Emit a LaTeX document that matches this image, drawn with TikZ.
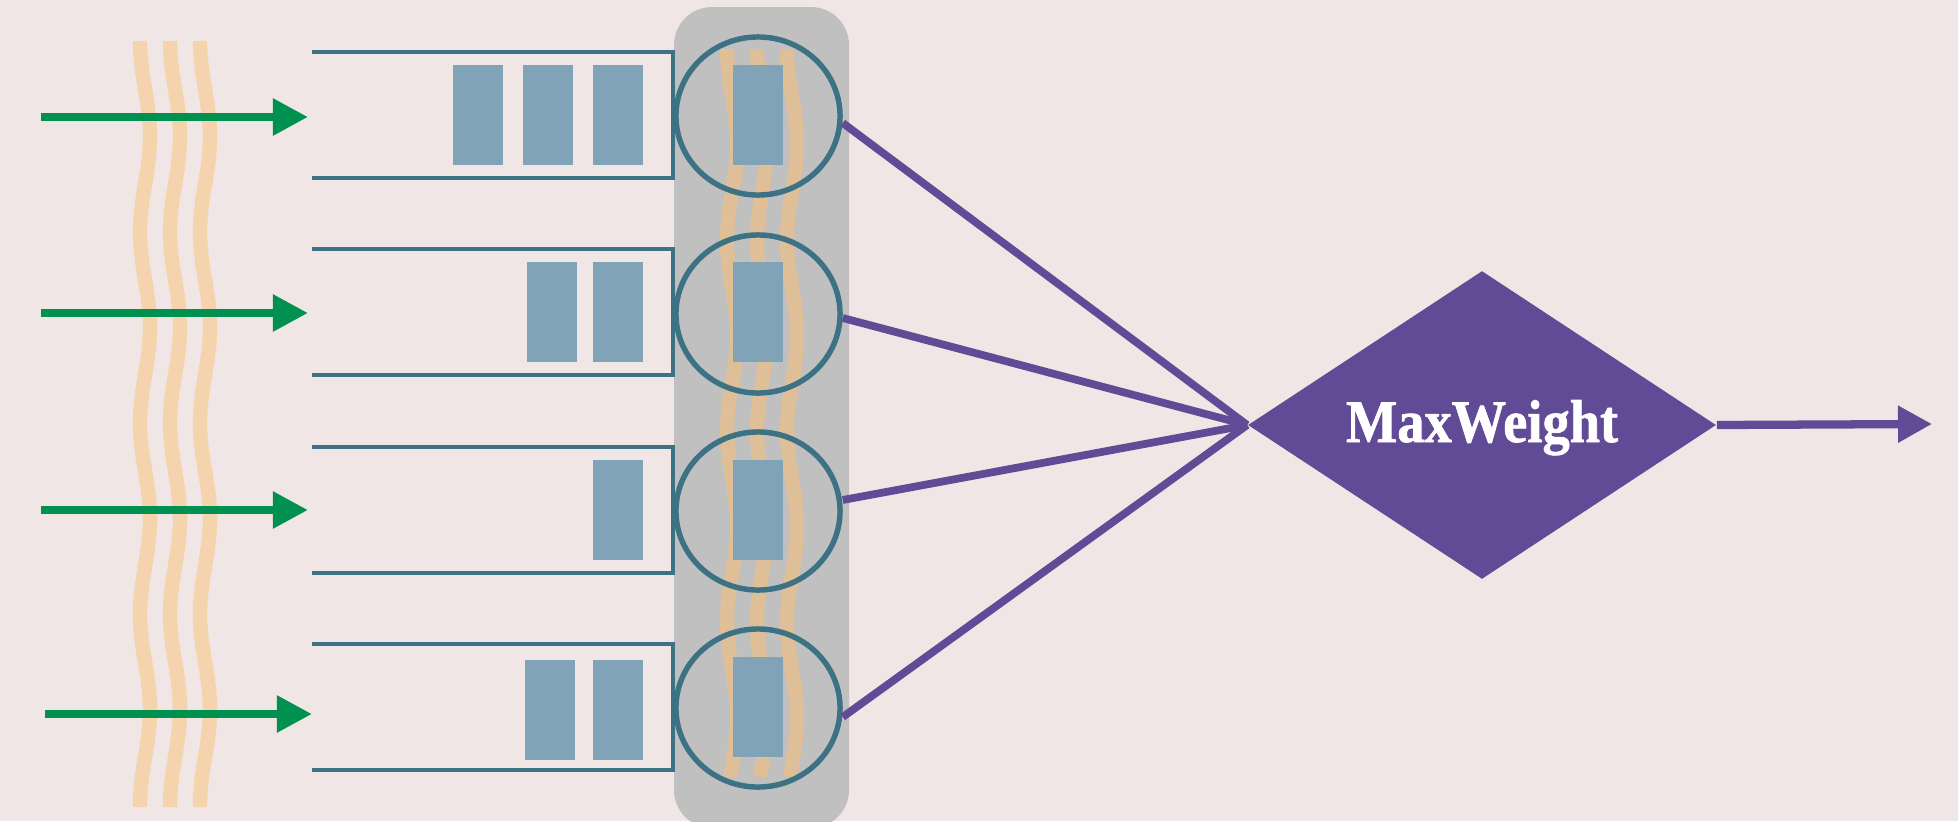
\documentclass[tikz,border=0pt]{standalone}
\usepackage{fontspec}
\usepackage{graphicx}
\newfontfamily\mwfont{Liberation Serif}[FakeBold=1.2]
\usetikzlibrary{arrows.meta,shapes.geometric}

\definecolor{bgcol}{RGB}{239,230,229}
\definecolor{bandgray}{RGB}{192,192,192}
\definecolor{flowor}{RGB}{245,211,172}
\definecolor{flowband}{RGB}{222,191,151}
\definecolor{arrgreen}{RGB}{0,144,79}
\definecolor{qteal}{RGB}{60,114,131}
\definecolor{pktblue}{RGB}{128,163,183}
\definecolor{mwpurple}{RGB}{97,74,150}

\begin{document}
\begin{tikzpicture}[x=0.01cm, y=-0.01cm,
  flowline/.style={draw=flowor, line width=4.1pt},
  bandflow/.style={draw=flowband, line width=4.1pt},
  qline/.style={draw=qteal, line width=1.4pt, line join=miter},
  pkt/.style={rectangle, fill=pktblue, draw=none, inner sep=0pt, outer sep=0pt,
    minimum width=0.5cm, minimum height=1cm},
  srv/.style={ellipse, draw=qteal, line width=1.55pt, inner sep=0pt,
    minimum width=1.64cm, minimum height=1.58cm},
  arrival/.style={draw=arrgreen, line width=2.35pt,
    -{Triangle[length=0.35cm, width=0.35cm]}},
  schedlink/.style={draw=mwpurple, line width=2.2pt},
  decide/.style={diamond, fill=mwpurple, draw=none, inner sep=0pt,
    minimum width=4.68cm, minimum height=3.08cm},
  outarrow/.style={draw=mwpurple, line width=2.35pt,
    -{Triangle[length=0.34cm, width=0.35cm]}}
]
\useasboundingbox (0,0) rectangle (1958,821);
\fill[bgcol] (0,0) rectangle (1958,821);

% grey column behind the servers
\fill[bandgray, rounded corners=0.38cm] (674,7) rectangle (849,828);

% channel fluctuation lines inside the column (period 191 units)
\foreach \xo in {727,757,787}
  \draw[bandflow] plot[domain=49:777, samples=120, variable=\t]
    ({\xo+5-5*cos(1.8848*(\t-49))}, \t);

% servers
\node[srv] (srv1) at (758,116) {};
\node[srv] (srv2) at (758,314) {};
\node[srv] (srv3) at (758,511) {};
\node[srv] (srv4) at (758,708) {};

% packets in service
\node[pkt] (s1) at (758,115) {};
\node[pkt] (s2) at (758,312) {};
\node[pkt] (s3) at (758,510) {};
\node[pkt] (s4) at (758,707) {};

% queue buffers
\foreach \c in {115,312,510,707}
  \draw[qline] (312,{\c-63}) -- (673,{\c-63}) -- (673,{\c+63}) -- (312,{\c+63});

% waiting packets
\node[pkt] (q1a) at (478,115) {};
\node[pkt] (q1b) at (548,115) {};
\node[pkt] (q1c) at (618,115) {};
\node[pkt] (q2a) at (552,312) {};
\node[pkt] (q2b) at (618,312) {};
\node[pkt] (q3a) at (618,510) {};
\node[pkt] (q4a) at (550,710) {};
\node[pkt] (q4b) at (618,710) {};

% arrival fluctuation lines
\foreach \xo in {140,170,200}
  \draw[flowline] plot[domain=41:807, samples=160, variable=\t]
    ({\xo+5-5*cos(1.8848*(\t-41))}, \t);

% arrivals
\coordinate (a1s) at (41,117);  \coordinate (a1e) at (308,117);
\coordinate (a2s) at (41,313);  \coordinate (a2e) at (308,313);
\coordinate (a3s) at (41,510);  \coordinate (a3e) at (308,510);
\coordinate (a4s) at (45,714);  \coordinate (a4e) at (312,714);
\draw[arrival] (a1s) -- (a1e);
\draw[arrival] (a2s) -- (a2e);
\draw[arrival] (a3s) -- (a3e);
\draw[arrival] (a4s) -- (a4e);

% scheduler
\node[decide] (mw) at (1482,425) {};
\draw[schedlink] ([yshift=-0.07cm]srv1.east) -- (mw.west);
\draw[schedlink] ([yshift=-0.04cm]srv2.east) -- (mw.west);
\draw[schedlink] ([yshift=0.11cm]srv3.east) -- (mw.west);
\draw[schedlink] ([yshift=-0.09cm]srv4.east) -- (mw.west);
\node[anchor=base, text=white, inner sep=0pt,
  font=\mwfont\bfseries\fontsize{17.2}{20}\selectfont]
  (mwlabel) at ([yshift=-0.17cm]mw.center) {\scalebox{0.9}[1]{MaxWeight}};

\coordinate (out) at (1932,424);
\draw[outarrow] (mw.east) -- (out);
\end{tikzpicture}
\end{document}
